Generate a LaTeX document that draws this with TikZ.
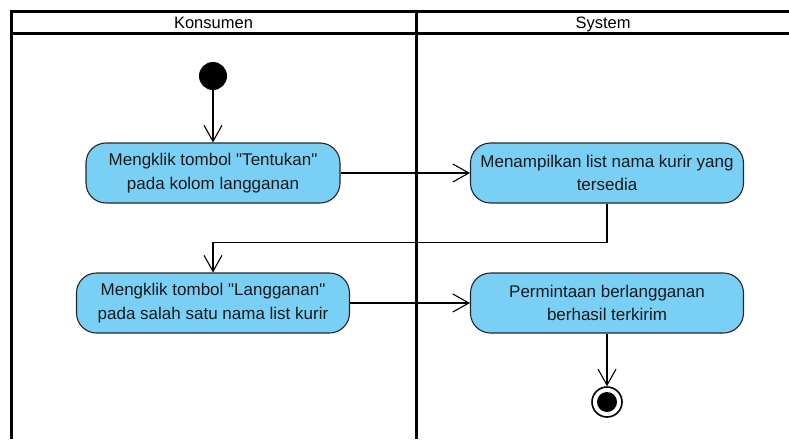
\documentclass[tikz,border=0pt]{standalone}
\usepackage{fontspec}
\setmainfont{Liberation Sans}
\usetikzlibrary{arrows.meta}
\definecolor{actblue}{RGB}{122,207,245}

\begin{document}
\begin{tikzpicture}[x=1pt, y=-1pt, >={Straight Barb[length=16pt, width=18pt]},
    lane/.style={line width=3pt},
    lanetitle/.style={anchor=base, font=\fontsize{16.5}{18}\selectfont},
    action/.style={draw=black!85, line width=1.1pt, fill=actblue, rounded corners=20pt,
      minimum height=60pt, align=center, text=black!90, font=\fontsize{17}{23.5}\selectfont},
    flow/.style={->, line width=1.1pt}]
      \useasboundingbox (0,0) rectangle (789,439);

      % swimlanes
      \draw[lane] (11,439) -- (11,11) -- (792,11);
      \draw[lane] (11,33) -- (792,33);
      \draw[lane] (416,11) -- (416,439);
      \node[lanetitle] (hkons) at (213.5,28) {Konsumen};
      \node[lanetitle] (hsys) at (603,28) {System};

      % start and end
      \node[circle, fill=black, minimum size=28pt, inner sep=0pt] (start) at (213,76) {};
      \node[circle, draw, line width=1.6pt, minimum size=30pt, inner sep=0pt] (stop) at (607,402) {};
      \node[circle, fill=black, minimum size=20pt, inner sep=0pt] (stopdot) at (stop) {};

      % actions
      \node[action, minimum width=254pt] (klik1) at (213,173) {Mengklik tombol \textquotedbl Tentukan\textquotedbl\\pada kolom langganan};
      \node[action, minimum width=273pt] (tampil) at (607,173) {Menampilkan list nama kurir yang\\tersedia};
      \node[action, minimum width=273pt] (klik2) at (213,303) {Mengklik tombol \textquotedbl Langganan\textquotedbl\\pada salah satu nama list kurir};
      \node[action, minimum width=273pt] (kirim) at (607,303) {Permintaan berlangganan\\berhasil terkirim};

      % flows
      \draw[flow] (start) -- (klik1.north);
      \draw[flow] (klik1.east) -- (tampil.west);
      \draw[flow] (tampil.south) -- ++(0,39) -| (klik2.north);
      \draw[flow] (klik2.east) -- (kirim.west);
      \draw[flow] (kirim.south) -- (stop.north);
    \end{tikzpicture}
\end{document}
